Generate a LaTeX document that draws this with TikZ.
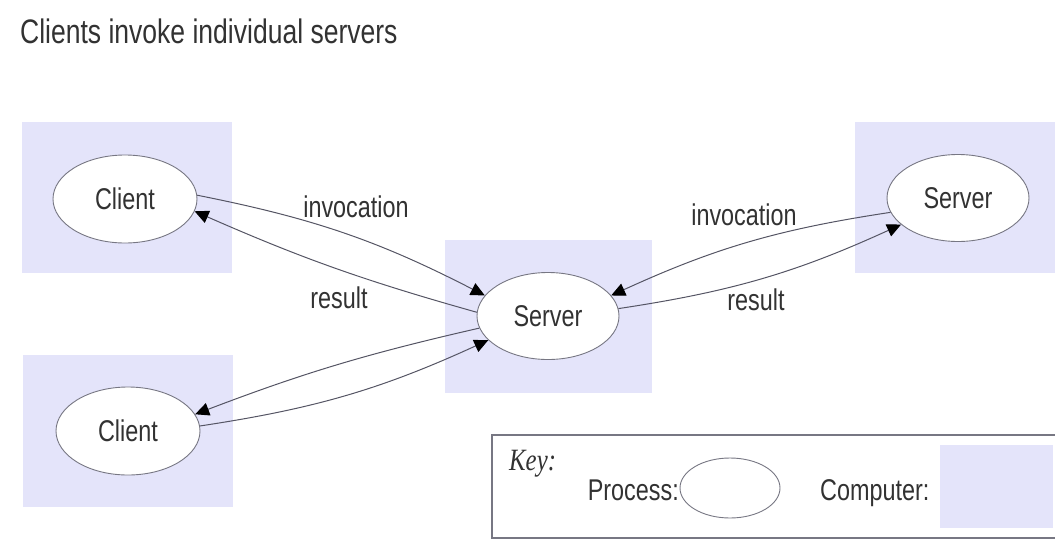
\documentclass[tikz,border=0pt]{standalone}
\usepackage{fontspec}
\setmainfont{Liberation Sans}[FakeStretch=0.78]
\newfontfamily\keyfont{Liberation Serif}[FakeStretch=0.8]
\usetikzlibrary{shapes.geometric,arrows.meta}
\definecolor{compfill}{RGB}{228,228,250}
\definecolor{txt}{RGB}{50,50,50}
\definecolor{ln}{RGB}{85,85,100}
\tikzset{
  computer/.style={fill=compfill, draw=none},
  process/.style={ellipse, draw=ln!80, line width=0.9pt, fill=white, inner sep=0pt,
    minimum width=144pt, minimum height=88pt, text=txt, font=\fontsize{30}{32}\selectfont},
  lbl/.style={text=txt, font=\fontsize{30}{32}\selectfont, inner sep=0pt, anchor=base},
  conn/.style={draw=ln, line width=1pt, -{Triangle[length=14pt,width=13pt,color=black]}}
}
\begin{document}
\begin{tikzpicture}[x=1pt,y=-1pt]
\useasboundingbox (0,0) rectangle (1055,541);
% title
\node[lbl, anchor=base west, font=\fontsize{34}{36}\selectfont] (title) at (20,43) {Clients invoke individual servers};
% computers
\path[computer] (22,122) rectangle (232,273);
\path[computer] (23,355) rectangle (233,507);
\path[computer] (445,240) rectangle (652,393);
\path[computer] (855,122) rectangle (1055,273);
% processes
\node[process] (c1) at (125,199) {Client};
\node[process] (c2) at (128,431) {Client};
\node[process, minimum width=142pt, minimum height=87pt] (s) at (548,316) {Server};
\node[process, minimum width=142pt, minimum height=87pt] (r) at (958,198) {Server};
% connectors
\draw[conn] (c1.3) to[bend left=8] (s.162);
\draw[conn] (s.177) to[bend left=4] (c1.-10);
\draw[conn] (s.190) to[bend right=4] (c2.14);
\draw[conn] (c2.4) to[bend right=8] (s.202);
\draw[conn] (r.192) to[bend right=8] (s.18);
\draw[conn] (s.6) to[bend right=8] (r.205);
% labels
\node[lbl] (inv1) at (356,217) {invocation};
\node[lbl] (res1) at (339,308) {result};
\node[lbl] (inv2) at (744,225) {invocation};
\node[lbl] (res2) at (756,310) {result};
% key
\draw[draw=ln!80, line width=1.4pt] (1056,435) -- (492,435) -- (492,538) -- (1056,538);
\node[lbl, anchor=base west, font=\keyfont\itshape\fontsize{31}{33}\selectfont] (key) at (509,470) {Key:};
\node[lbl, anchor=base east] (proc) at (679,500) {Process:};
\node[process, minimum width=100pt, minimum height=60pt] (kp) at (730,488) {};
\node[lbl, anchor=base west] (comp) at (820,500) {Computer:};
\path[computer] (940,445) rectangle (1053,528);
\end{tikzpicture}
\end{document}
